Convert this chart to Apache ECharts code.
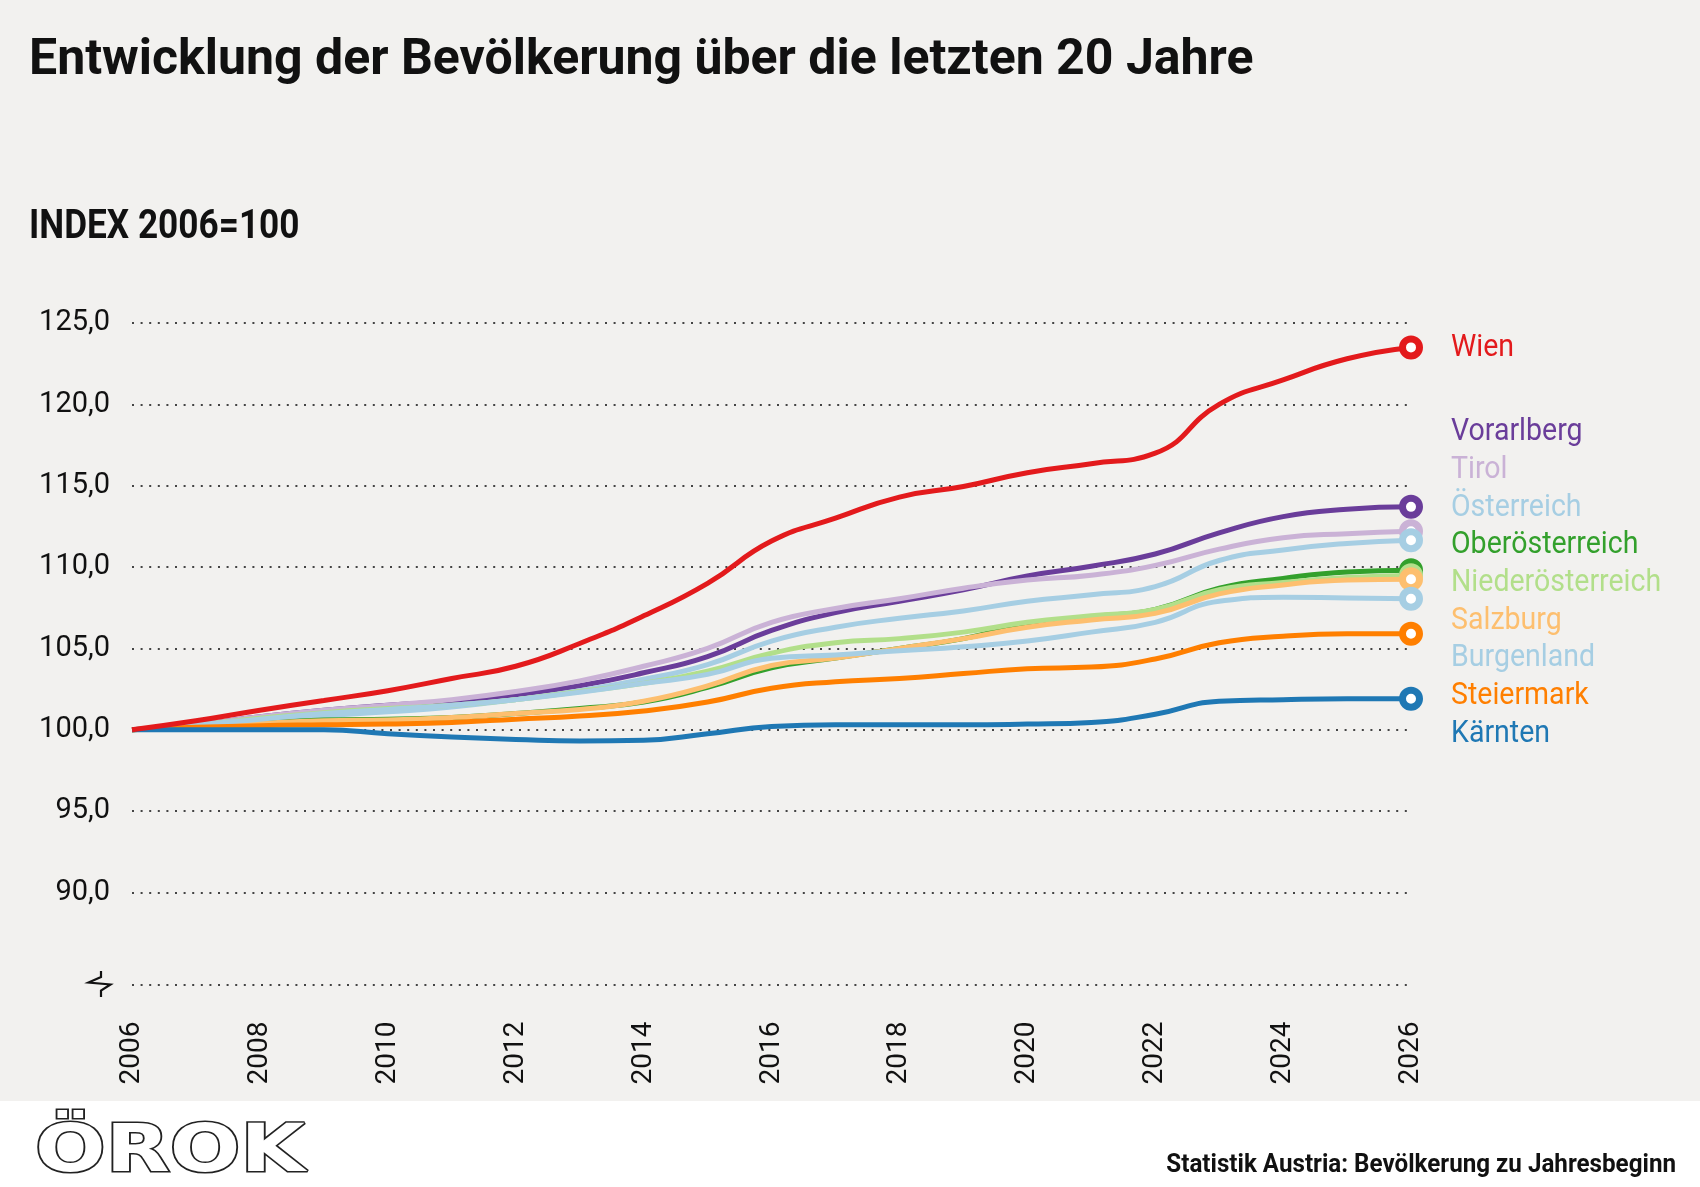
<!DOCTYPE html>
<html>
<head>
<meta charset="utf-8">
<title>Entwicklung der Bevölkerung</title>
<script src="https://cdn.jsdelivr.net/npm/echarts@6.0.0/dist/echarts.min.js"></script>
<style>
  html, body { margin: 0; padding: 0; background: #f2f1ef; }
  #main { width: 1700px; height: 1187px; }
</style>
</head>
<body>
<div id="main"></div>
<script>
// Jahre (1. Jänner), Index 2006 = 100
var years = ['2006','2007','2008','2009','2010','2011','2012','2013','2014','2015','2016',
             '2017','2018','2019','2020','2021','2022','2023','2024','2025','2026'];

var wien          = [100, 100.55, 101.2, 101.8, 102.4, 103.15, 103.9, 105.3, 107.0, 109.0, 111.6, 113.0, 114.3, 114.95, 115.8, 116.35, 117.0, 120.0, 121.5, 122.8, 123.5];
var vorarlberg    = [100, 100.3, 100.8, 101.2, 101.5, 101.75, 102.15, 102.7, 103.5, 104.5, 106.1, 107.2, 107.9, 108.6, 109.45, 110.05, 110.8, 112.1, 113.1, 113.55, 113.7];
var tirol         = [100, 100.3, 100.8, 101.2, 101.5, 101.85, 102.35, 103.0, 103.9, 105.0, 106.6, 107.45, 108.05, 108.7, 109.2, 109.5, 110.1, 111.1, 111.8, 112.05, 112.2];
var oesterreich   = [100, 100.25, 100.55, 100.85, 101.1, 101.4, 101.85, 102.4, 103.1, 104.0, 105.45, 106.3, 106.85, 107.3, 107.9, 108.3, 108.8, 110.4, 111.05, 111.45, 111.65];
var oberoest      = [100, 100.2, 100.4, 100.6, 100.65, 100.75, 101.0, 101.3, 101.7, 102.6, 103.8, 104.4, 105.0, 105.6, 106.5, 106.95, 107.4, 108.7, 109.3, 109.7, 109.8];
var niederoest    = [100, 100.3, 100.7, 101.05, 101.3, 101.5, 101.85, 102.35, 102.85, 103.6, 104.7, 105.35, 105.6, 106.0, 106.6, 107.0, 107.4, 108.6, 109.05, 109.35, 109.5];
var salzburg      = [100, 100.2, 100.4, 100.55, 100.6, 100.75, 101.0, 101.25, 101.75, 102.7, 103.95, 104.4, 105.0, 105.6, 106.3, 106.75, 107.15, 108.35, 108.9, 109.2, 109.25];
var burgenland    = [100, 100.3, 100.65, 101.0, 101.25, 101.5, 101.85, 102.3, 102.85, 103.4, 104.4, 104.6, 104.85, 105.1, 105.45, 106.0, 106.6, 107.9, 108.15, 108.1, 108.05];
var steiermark    = [100, 100.15, 100.25, 100.3, 100.35, 100.45, 100.65, 100.85, 101.15, 101.7, 102.55, 102.95, 103.15, 103.45, 103.75, 103.85, 104.35, 105.35, 105.75, 105.9, 105.9];
var kaernten      = [100, 100.0, 100.0, 100.0, 99.75, 99.55, 99.4, 99.3, 99.35, 99.75, 100.2, 100.3, 100.3, 100.3, 100.35, 100.45, 100.95, 101.75, 101.85, 101.9, 101.9];

var names  = ['Wien', 'Vorarlberg', 'Tirol', 'Österreich', 'Oberösterreich', 'Niederösterreich', 'Salzburg', 'Burgenland', 'Steiermark', 'Kärnten'];
var values = [wien, vorarlberg, tirol, oesterreich, oberoest, niederoest, salzburg, burgenland, steiermark, kaernten];
var colors = ['#e31a1c', '#6a3d9a', '#cab2d6', '#a6cee3', '#33a02c', '#b2df8a', '#fdbf6f', '#a6cee3', '#ff7f00', '#1f78b4'];

var yTicks = [90, 95, 100, 105, 110, 115, 120, 125];
var yMin = 84.34;  // Achsenbruch unten

var myChart = echarts.init(document.getElementById('main'));

var series = values.map(function (vals, k) {
	var n = vals.length;
	return {
		name: names[k],
		type: 'line',
		z: k === 0 ? 5 : 2,
		smooth: 0.5,
		symbol: 'none',
		showAllSymbol: true,
		lineStyle: { width: 5, color: colors[k] },
		itemStyle: { color: '#fff', borderColor: colors[k], borderWidth: 7 },
		emphasis: { disabled: true },
		data: vals.map(function (v, i) {
			return i === n - 1 ? { value: v, symbol: 'circle', symbolSize: 17 } : v;
		})
	};
});

// Beschriftung rechts
var labelY = [348.5, 432.5, 470.2, 508, 545.6, 583.3, 621, 658.7, 696.4, 734];
var graphics = [
	{ type: 'rect', left: 0, top: 1101, shape: { width: 1700, height: 86 }, style: { fill: '#ffffff' }, silent: true },
	{ type: 'text', x: 29, y: 228, scaleX: 0.88,
	  style: { text: 'INDEX 2006=100', font: 'bold 40px Roboto', fill: '#111', textVerticalAlign: 'middle' } },
	{ type: 'polyline', shape: { points: [[101, 971], [101, 977], [88.5, 982.5], [110.5, 984.5], [101, 990.5], [101, 997]] },
	  style: { stroke: '#111', lineWidth: 2.2, fill: null } },
	{ type: 'text', x: 35, y: 1154, scaleX: 1.26,
	  style: { text: 'ÖROK', font: 'bold 66px "DejaVu Sans"', fill: '#ffffff', stroke: '#222', lineWidth: 3, textVerticalAlign: 'middle' } },
	{ type: 'text', x: 1676, y: 1165, scaleX: 0.93,
	  style: { text: 'Statistik Austria: Bevölkerung zu Jahresbeginn', font: 'bold 26px Roboto', fill: '#111', textAlign: 'right', textVerticalAlign: 'middle' } }
];
names.forEach(function (nm, k) {
	graphics.push({ type: 'text', x: 1451, y: labelY[k], scaleX: 0.92,
		style: { text: nm, font: '31px Roboto', fill: colors[k], textVerticalAlign: 'middle' } });
});

option = {
	backgroundColor: '#f2f1ef',
	animation: false,
	title: {
		text: 'Entwicklung der Bevölkerung über die letzten 20 Jahre',
		left: 29,
		top: 36,
		padding: 0,
		textStyle: { fontFamily: 'Roboto', fontWeight: 'bold', fontSize: 50, color: '#111' }
	},
	grid: { left: 132, right: 289, top: 323, bottom: 202.5 },
	xAxis: {
		type: 'category',
		boundaryGap: false,
		data: years,
		axisLine: { show: false },
		axisTick: { show: false },
		splitLine: { show: false },
		axisLabel: { interval: 1, rotate: 90, margin: 37, fontFamily: 'Roboto', fontSize: 28, color: '#111' }
	},
	yAxis: {
		type: 'value',
		min: yMin,
		max: 125,
		axisLine: { show: false },
		axisTick: { show: false, customValues: [yMin].concat(yTicks) },
		axisLabel: {
			customValues: yTicks,
			margin: 22,
			fontFamily: 'Roboto',
			fontSize: 29,
			color: '#111',
			formatter: function (v) { return v.toFixed(1).replace('.', ','); }
		},
		splitLine: { lineStyle: { type: [2, 6.6], width: 2, color: '#444' } }
	},
	graphic: graphics,
	series: series
};
myChart.setOption(option);
</script>
</body>
</html>
